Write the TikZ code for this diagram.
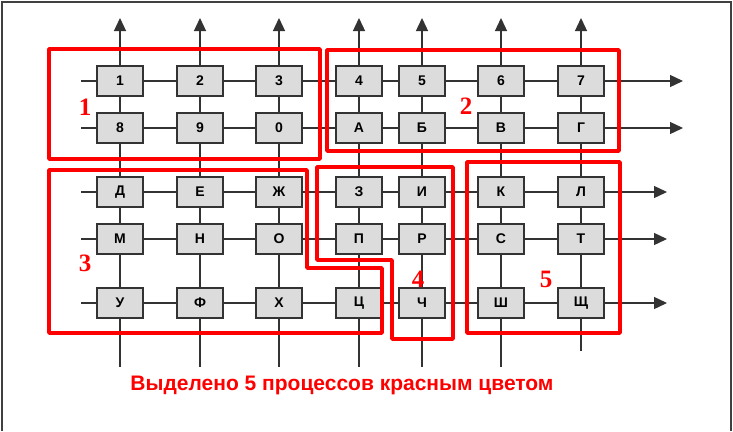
\documentclass[tikz,border=0pt]{standalone}
\usepackage{fontspec}
\setmainfont{Liberation Sans}
\newfontfamily\serifnum{Liberation Serif}
\usetikzlibrary{arrows.meta}
\definecolor{linegray}{HTML}{333333}
\definecolor{cellgray}{HTML}{DCDCDC}
\definecolor{framegray}{HTML}{404040}
\begin{document}
\begin{tikzpicture}[x=1pt,y=-1pt,
  cell/.style={draw=linegray, fill=cellgray, line width=1.2pt, minimum width=46pt, minimum height=30pt, inner sep=0pt, font=\bfseries\fontsize{14}{14}\selectfont},
  wire/.style={draw=linegray, line width=1.3pt},
  arr/.style={wire, -{Triangle[length=13pt,width=12pt]}},
  grp/.style={draw=red, line width=3.5pt, line join=round},
  glabel/.style={text=red, font=\serifnum\bfseries\fontsize{25}{25}\selectfont},
  caption/.style={text=red, font=\bfseries\fontsize{21}{21}\selectfont}]
\useasboundingbox (0,0) rectangle (733,431);
\fill[white] (0,0) rectangle (733,431);
\draw[framegray, line width=2pt] (2,431) -- (2,1.5) -- (731,1.5) -- (731,431);

% columns and rows
\def\colx{{0,120,200,279,359,422,501,581}}
\def\rowy{{0,81,128,192,239,303}}

% cells
\foreach \r/\labels in {1/{1,2,3,4,5,6,7},2/{8,9,0,А,Б,В,Г},3/{Д,Е,Ж,З,И,К,Л},4/{М,Н,О,П,Р,С,Т},5/{У,Ф,Х,Ц,Ч,Ш,Щ}}{
  \foreach \t [count=\c] in \labels {
    \pgfmathsetmacro{\xx}{\colx[\c]}
    \pgfmathsetmacro{\yy}{\rowy[\r]}
    \node[cell] (c-\r-\c) at (\xx,\yy) {\t};
  }
}

% row coordinates
\foreach \r/\ex in {1/683,2/683,3/667,4/667,5/667}{
  \pgfmathsetmacro{\yy}{\rowy[\r]}
  \coordinate (s-\r) at (81,\yy);
  \coordinate (e-\r) at (\ex,\yy);
}
% column coordinates
\foreach \c/\by in {1/367,2/367,3/367,4/367,5/367,6/367,7/351}{
  \pgfmathsetmacro{\xx}{\colx[\c]}
  \coordinate (t-\c) at (\xx,18);
  \coordinate (b-\c) at (\xx,\by);
}

% horizontal wires
\foreach \r in {1,...,5}{
  \draw[wire] (s-\r) -- (c-\r-1.west);
  \foreach \c [evaluate=\c as \n using int(\c+1)] in {1,...,6}{
    \draw[wire] (c-\r-\c.east) -- (c-\r-\n.west);
  }
  \draw[arr] (c-\r-7.east) -- (e-\r);
}
% vertical wires
\foreach \c in {1,...,7}{
  \draw[arr] (c-1-\c.north) -- (t-\c);
  \foreach \r [evaluate=\r as \n using int(\r+1)] in {1,...,4}{
    \draw[wire] (c-\r-\c.south) -- (c-\n-\c.north);
  }
  \draw[wire] (c-5-\c.south) -- (b-\c);
}

% red process groups
\draw[grp] (49,49) rectangle (320,159);
\draw[grp] (327,50) rectangle (619,151);
\draw[grp] (49,170) -- (307,170) -- (307,268) -- (382,268) -- (382,333) -- (49,333) -- cycle;
\draw[grp] (317,167) -- (453,167) -- (453,339) -- (392,339) -- (392,260) -- (317,260) -- cycle;
\draw[grp] (467,162) rectangle (620,333);

\node[glabel] (g1) at (85,107) {1};
\node[glabel] (g2) at (466,106) {2};
\node[glabel] (g3) at (85,263) {3};
\node[glabel] (g4) at (418,279) {4};
\node[glabel] (g5) at (546,279) {5};

\node[caption] (cap) at (342,385) {Выделено 5 процессов красным цветом};
\end{tikzpicture}
\end{document}
